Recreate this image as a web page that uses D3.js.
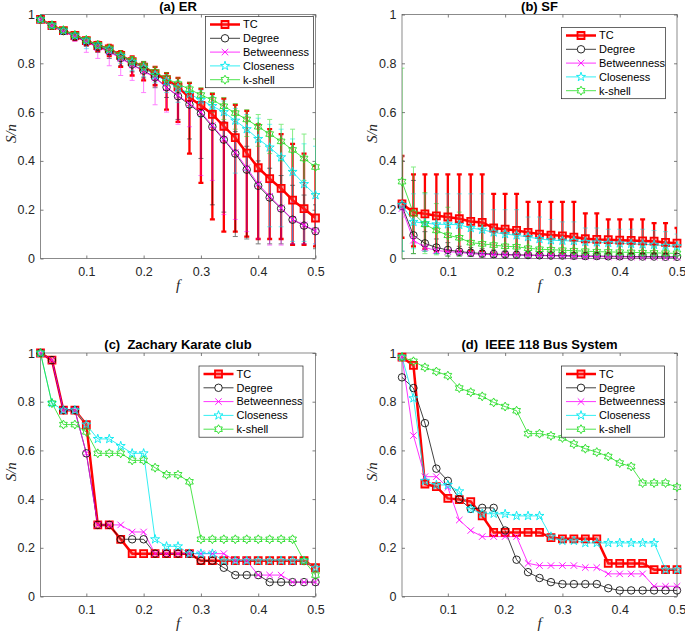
<!DOCTYPE html>
<html><head><meta charset="utf-8">
<script src="https://cdn.jsdelivr.net/npm/d3@7"></script>
<style>
body{margin:0;background:#fff}
svg{display:block}
text{font-family:"Liberation Sans",Arial,Helvetica,sans-serif}
</style>
</head><body>
<svg id="chart" width="685" height="632"></svg>
<script>
// ---------------- data ----------------
const fValues = [0.02,0.04,0.06,0.08,0.10,0.12,0.14,0.16,0.18,0.20,0.22,0.24,0.26,0.28,0.30,0.32,0.34,0.36,0.38,0.40,0.42,0.44,0.46,0.48,0.50];
const xTicks = [0.1,0.2,0.3,0.4,0.5];
const xTickLabels = ["0.1","0.2","0.3","0.4","0.5"];
const yTicks = [0,0.2,0.4,0.6,0.8,1];
const yTickLabels = ["0","0.2","0.4","0.6","0.8","1"];
const seriesNames = ["TC","Degree","Betweenness","Closeness","k-shell"];
const panelTitles = ["(a) ER","(b) SF","(c)  Zachary Karate club","(d)  IEEE 118 Bus System"];
const xLabel = "f";
const yLabel = "S/n";

// (a) ER
const erTC = [0.98,0.955,0.934,0.914,0.893,0.873,0.859,0.832,0.807,0.784,0.758,0.733,0.703,0.66,0.627,0.591,0.542,0.495,0.432,0.372,0.327,0.287,0.239,0.204,0.166];
const erDegree = [0.98,0.955,0.932,0.91,0.89,0.868,0.85,0.822,0.795,0.77,0.742,0.702,0.665,0.631,0.595,0.54,0.487,0.43,0.364,0.298,0.25,0.205,0.159,0.135,0.112];
const erBetweenness = [0.98,0.954,0.93,0.908,0.887,0.865,0.847,0.82,0.793,0.768,0.74,0.70,0.668,0.635,0.60,0.545,0.49,0.435,0.372,0.305,0.255,0.207,0.16,0.137,0.113];
const erCloseness = [0.98,0.955,0.934,0.914,0.894,0.873,0.857,0.83,0.805,0.782,0.752,0.727,0.70,0.675,0.65,0.625,0.60,0.565,0.53,0.49,0.455,0.415,0.355,0.305,0.26];
const erKshell = [0.98,0.956,0.936,0.916,0.896,0.876,0.861,0.834,0.81,0.789,0.764,0.738,0.715,0.694,0.67,0.65,0.624,0.596,0.57,0.54,0.51,0.48,0.445,0.41,0.375];
const erTCLow = [0.975,0.948,0.925,0.895,0.875,0.85,0.83,0.785,0.75,0.73,0.71,0.61,0.56,0.43,0.31,0.16,0.11,0.11,0.09,0.08,0.08,0.08,0.056,0.056,0.05];
const erTCHigh = [0.985,0.962,0.942,0.925,0.905,0.888,0.875,0.85,0.828,0.805,0.785,0.76,0.74,0.72,0.695,0.675,0.655,0.63,0.605,0.55,0.53,0.51,0.47,0.43,0.38];
const erDegreeLow = [0.975,0.945,0.92,0.895,0.87,0.845,0.82,0.79,0.765,0.74,0.70,0.66,0.57,0.49,0.41,0.22,0.19,0.09,0.08,0.06,0.06,0.06,0.06,0.06,0.04];
const erDegreeHigh = [0.985,0.962,0.942,0.922,0.903,0.883,0.866,0.84,0.815,0.792,0.767,0.73,0.695,0.663,0.64,0.60,0.56,0.52,0.46,0.40,0.37,0.34,0.30,0.26,0.22];
const erBetweennessLow = [0.975,0.945,0.92,0.89,0.845,0.82,0.79,0.75,0.73,0.68,0.63,0.60,0.55,0.54,0.34,0.32,0.18,0.16,0.11,0.08,0.055,0.055,0.06,0.06,0.06];
const erBetweennessHigh = [0.985,0.962,0.94,0.92,0.9,0.88,0.862,0.836,0.81,0.787,0.76,0.725,0.695,0.665,0.635,0.585,0.535,0.48,0.42,0.36,0.31,0.27,0.23,0.2,0.17];
const erClosenessLow = [0.975,0.948,0.925,0.9,0.86,0.855,0.835,0.8,0.77,0.745,0.72,0.68,0.64,0.62,0.58,0.54,0.49,0.35,0.36,0.30,0.13,0.13,0.07,0.07,0.06];
const erClosenessHigh = [0.985,0.962,0.942,0.925,0.905,0.887,0.873,0.848,0.825,0.805,0.775,0.752,0.728,0.71,0.69,0.665,0.645,0.615,0.59,0.575,0.55,0.53,0.49,0.47,0.46];
const erKshellLow = [0.975,0.948,0.928,0.905,0.885,0.862,0.845,0.815,0.79,0.765,0.74,0.71,0.685,0.66,0.63,0.6,0.57,0.53,0.50,0.46,0.43,0.40,0.36,0.32,0.26];
const erKshellHigh = [0.986,0.963,0.944,0.925,0.906,0.888,0.874,0.85,0.828,0.808,0.786,0.762,0.74,0.722,0.7,0.68,0.66,0.635,0.61,0.59,0.57,0.55,0.53,0.51,0.49];

// (b) SF
const sfTC = [0.224,0.19,0.183,0.175,0.17,0.163,0.152,0.148,0.125,0.12,0.115,0.107,0.1,0.096,0.093,0.088,0.081,0.078,0.077,0.075,0.074,0.072,0.071,0.066,0.063];
const sfDegree = [0.215,0.095,0.062,0.045,0.035,0.028,0.024,0.02,0.018,0.016,0.015,0.014,0.013,0.012,0.012,0.011,0.01,0.01,0.009,0.009,0.008,0.008,0.008,0.007,0.007];
const sfBetweenness = [0.205,0.075,0.045,0.033,0.028,0.025,0.02,0.017,0.016,0.015,0.014,0.013,0.012,0.011,0.01,0.009,0.008,0.008,0.007,0.007,0.006,0.006,0.006,0.005,0.005];
const sfCloseness = [0.22,0.15,0.145,0.14,0.14,0.138,0.125,0.118,0.107,0.1,0.095,0.088,0.08,0.075,0.073,0.072,0.068,0.066,0.064,0.062,0.06,0.058,0.056,0.052,0.05];
const sfKshell = [0.315,0.185,0.14,0.115,0.095,0.085,0.065,0.06,0.055,0.05,0.048,0.042,0.038,0.036,0.034,0.032,0.03,0.028,0.027,0.026,0.025,0.024,0.023,0.022,0.021];
const sfTCLow = [0.085,0.05,0.04,0.03,0.03,0.03,0.03,0.03,0.02,0.02,0.02,0.02,0.02,0.02,0.02,0.02,0.02,0.02,0.02,0.02,0.02,0.02,0.02,0.02,0.02];
const sfTCHigh = [0.42,0.345,0.345,0.345,0.345,0.345,0.345,0.345,0.265,0.265,0.265,0.232,0.232,0.232,0.232,0.232,0.185,0.185,0.16,0.16,0.16,0.16,0.145,0.145,0.125];
const sfDegreeLow = [0.03,0.02,0.03,0.02,0.01,0.01,0.008,0.006,0.006,0.005,0.005,0.004,0.004,0.004,0.004,0.003,0.003,0.003,0.003,0.003,0.002,0.002,0.002,0.002,0.002];
const sfDegreeHigh = [0.40,0.32,0.11,0.08,0.065,0.05,0.045,0.04,0.035,0.032,0.03,0.028,0.026,0.025,0.024,0.022,0.02,0.02,0.018,0.018,0.017,0.016,0.016,0.015,0.015];
const sfBetweennessLow = [0.17,0.06,0.035,0.025,0.02,0.018,0.013,0.011,0.011,0.01,0.009,0.009,0.008,0.007,0.006,0.005,0.004,0.004,0.003,0.003,0.002,0.002,0.002,0.001,0.001];
const sfBetweennessHigh = [0.24,0.09,0.055,0.042,0.036,0.032,0.027,0.023,0.021,0.02,0.019,0.017,0.016,0.015,0.014,0.013,0.012,0.012,0.011,0.011,0.01,0.01,0.01,0.009,0.009];
const sfClosenessLow = [0.03,0.04,0.03,0.02,0.02,0.02,0.02,0.02,0.02,0.02,0.02,0.015,0.015,0.015,0.015,0.015,0.012,0.012,0.012,0.012,0.01,0.01,0.01,0.01,0.01];
const sfClosenessHigh = [0.42,0.265,0.265,0.265,0.265,0.265,0.265,0.265,0.2,0.2,0.2,0.17,0.17,0.16,0.15,0.15,0.125,0.125,0.12,0.12,0.12,0.12,0.115,0.11,0.1];
const sfKshellLow = [0.0,0.02,0.02,0.015,0.01,0.01,0.008,0.008,0.006,0.006,0.005,0.005,0.005,0.004,0.004,0.004,0.004,0.004,0.003,0.003,0.003,0.003,0.003,0.003,0.003];
const sfKshellHigh = [0.78,0.375,0.27,0.225,0.21,0.19,0.15,0.14,0.12,0.11,0.1,0.09,0.085,0.08,0.075,0.07,0.065,0.06,0.058,0.056,0.054,0.052,0.05,0.048,0.046];

// (c) Zachary Karate club
const zkTC = [1,0.971,0.765,0.765,0.706,0.294,0.294,0.235,0.176,0.176,0.176,0.176,0.176,0.176,0.147,0.147,0.147,0.147,0.147,0.147,0.147,0.147,0.147,0.147,0.118];
const zkDegree = [1,0.971,0.765,0.765,0.588,0.294,0.294,0.235,0.235,0.235,0.176,0.176,0.176,0.176,0.147,0.147,0.118,0.088,0.088,0.088,0.059,0.059,0.059,0.059,0.059];
const zkBetweenness = [1,0.971,0.765,0.765,0.588,0.294,0.294,0.294,0.265,0.265,0.176,0.176,0.176,0.176,0.176,0.176,0.176,0.147,0.147,0.088,0.088,0.088,0.059,0.059,0.059];
const zkCloseness = [1,0.794,0.765,0.765,0.706,0.647,0.647,0.618,0.588,0.588,0.235,0.206,0.206,0.176,0.176,0.176,0.147,0.147,0.147,0.147,0.147,0.147,0.147,0.147,0.118];
const zkKshell = [1,0.794,0.706,0.706,0.676,0.588,0.588,0.588,0.559,0.559,0.529,0.5,0.5,0.471,0.235,0.235,0.235,0.235,0.235,0.235,0.235,0.235,0.235,0.147,0.088];

// (d) IEEE 118 Bus System
const ieTC = [0.983,0.949,0.462,0.451,0.403,0.398,0.39,0.331,0.263,0.263,0.263,0.263,0.263,0.242,0.237,0.237,0.237,0.237,0.136,0.136,0.136,0.136,0.11,0.11,0.11];
const ieDegree = [0.90,0.856,0.712,0.525,0.475,0.40,0.36,0.364,0.364,0.271,0.151,0.10,0.076,0.059,0.051,0.051,0.051,0.051,0.034,0.025,0.025,0.025,0.025,0.025,0.025];
const ieBetweenness = [0.983,0.661,0.492,0.492,0.448,0.314,0.271,0.246,0.246,0.246,0.246,0.136,0.127,0.127,0.127,0.127,0.119,0.119,0.093,0.093,0.093,0.093,0.042,0.042,0.042];
const ieCloseness = [0.983,0.814,0.475,0.458,0.458,0.432,0.36,0.34,0.34,0.339,0.331,0.331,0.331,0.246,0.229,0.229,0.22,0.22,0.22,0.22,0.22,0.22,0.22,0.11,0.11];
const ieKshell = [0.983,0.966,0.941,0.924,0.907,0.856,0.839,0.822,0.797,0.78,0.763,0.669,0.669,0.66,0.651,0.626,0.607,0.593,0.575,0.548,0.534,0.466,0.466,0.466,0.449];

// ---------------- styles / layout ----------------
const hexagram = {draw(ctx, size){const r=Math.sqrt(size)/2, ri=r/Math.sqrt(3);
  for(let i=0;i<12;i++){const a=-Math.PI/2+i*Math.PI/6, rr=i%2?ri:r; const x=rr*Math.cos(a), y=rr*Math.sin(a); i?ctx.lineTo(x,y):ctx.moveTo(x,y);} ctx.closePath();}};
const pentagram = {draw(ctx, size){const r=Math.sqrt(size)/2, ri=r*0.382;
  for(let i=0;i<10;i++){const a=-Math.PI/2+i*Math.PI/5, rr=i%2?ri:r; const x=rr*Math.cos(a), y=rr*Math.sin(a); i?ctx.lineTo(x,y):ctx.moveTo(x,y);} ctx.closePath();}};
const square = {draw(ctx, size){const h=Math.sqrt(size)/2; ctx.rect(-h,-h,2*h,2*h);}};
const circle = {draw(ctx, size){const r=Math.sqrt(size)/2; ctx.moveTo(r,0); ctx.arc(0,0,r,0,2*Math.PI);}};
const cross = {draw(ctx, size){const h=Math.sqrt(size)/2; ctx.moveTo(-h,-h); ctx.lineTo(h,h); ctx.moveTo(-h,h); ctx.lineTo(h,-h);}};

const seriesStyle = [
  {color:"#ff0000", lw:2.5, type:square, size:49, mfill:"rgba(255,60,60,0.35)", mw:1.8, ew:2.3, eop:1},
  {color:"#111111", lw:0.8, type:circle, size:56, mfill:"none", mw:0.9, ew:1, eop:0.55},
  {color:"#ff00ff", lw:0.8, type:cross, size:42, mfill:"none", mw:0.9, ew:1, eop:0.5},
  {color:"#00eaf0", lw:0.8, type:pentagram, size:90, mfill:"none", mw:0.9, ew:1, eop:0.55},
  {color:"#22dd22", lw:0.8, type:hexagram, size:80, mfill:"none", mw:0.9, ew:1, eop:0.55}
];

const panels = [
  {title:panelTitles[0], xr:[40.5,315.5], yr:[258.5,14.5], leg:[205.5,16.5,108],
   vals:[erTC,erDegree,erBetweenness,erCloseness,erKshell],
   lows:[erTCLow,erDegreeLow,erBetweennessLow,erClosenessLow,erKshellLow],
   highs:[erTCHigh,erDegreeHigh,erBetweennessHigh,erClosenessHigh,erKshellHigh]},
  {title:panelTitles[1], xr:[402,677], yr:[258.5,14.5], leg:[561.5,27.5,104],
   vals:[sfTC,sfDegree,sfBetweenness,sfCloseness,sfKshell],
   lows:[sfTCLow,sfDegreeLow,sfBetweennessLow,sfClosenessLow,sfKshellLow],
   highs:[sfTCHigh,sfDegreeHigh,sfBetweennessHigh,sfClosenessHigh,sfKshellHigh]},
  {title:panelTitles[2], xr:[40.5,315.5], yr:[596.5,353], leg:[199,366,104],
   vals:[zkTC,zkDegree,zkBetweenness,zkCloseness,zkKshell]},
  {title:panelTitles[3], xr:[402,677], yr:[596.5,353], leg:[561.5,366,103],
   vals:[ieTC,ieDegree,ieBetweenness,ieCloseness,ieKshell]}
];

const svg = d3.select("#chart");
const axisColor = "#262626";

panels.forEach((p, pi) => {
  const x = d3.scaleLinear().domain([0.02,0.5]).range(p.xr);
  const y = d3.scaleLinear().domain([0,1]).range(p.yr);
  const g = svg.append("g");
  const cid = "clip"+pi;
  g.append("clipPath").attr("id",cid).append("rect")
    .attr("x",p.xr[0]).attr("y",p.yr[1]).attr("width",p.xr[1]-p.xr[0]).attr("height",p.yr[0]-p.yr[1]);

  // axes
  const xb = d3.axisBottom(x).tickValues(xTicks).tickFormat((d,i)=>xTickLabels[i]).tickSizeInner(-3).tickSizeOuter(0).tickPadding(9);
  const xt = d3.axisTop(x).tickValues(xTicks).tickFormat("").tickSizeInner(-3).tickSizeOuter(0);
  const yl = d3.axisLeft(y).tickValues(yTicks).tickFormat((d,i)=>yTickLabels[i]).tickSizeInner(-3).tickSizeOuter(0).tickPadding(5.5);
  const yrt = d3.axisRight(y).tickValues(yTicks).tickFormat("").tickSizeInner(-3).tickSizeOuter(0);
  const axes = [
    g.append("g").attr("transform",`translate(0,${p.yr[0]})`).call(xb),
    g.append("g").attr("transform",`translate(0,${p.yr[1]})`).call(xt),
    g.append("g").attr("transform",`translate(${p.xr[0]},0)`).call(yl),
    g.append("g").attr("transform",`translate(${p.xr[1]},0)`).call(yrt)
  ];
  axes.forEach(a => {
    a.select(".domain").remove();
    a.selectAll(".tick line").attr("stroke",axisColor).attr("stroke-width",0.6);
    a.selectAll(".tick text").attr("fill",axisColor).style("font-size","12.5px").style("font-family","'Liberation Sans',Arial,sans-serif");
  });
  g.append("rect").attr("x",p.xr[0]).attr("y",p.yr[1]).attr("width",p.xr[1]-p.xr[0]).attr("height",p.yr[0]-p.yr[1])
    .attr("fill","none").attr("stroke","#5a5a5a").attr("stroke-width",0.7);

  // title
  g.append("text").attr("x",(p.xr[0]+p.xr[1])/2).attr("y",p.yr[1]-4).attr("text-anchor","middle")
    .style("font-weight","bold").style("font-size","13px").style("white-space","pre").attr("fill","#000").text(p.title);
  // axis labels
  g.append("text").attr("x",(p.xr[0]+p.xr[1])/2).attr("y",p.yr[0]+31).attr("text-anchor","middle")
    .style("font-family","'Liberation Serif','Times New Roman',serif").style("font-style","italic").style("font-size","15px")
    .attr("fill",axisColor).text(xLabel);
  g.append("text").attr("transform",`translate(${p.xr[0]-25},${(p.yr[0]+p.yr[1])/2-3}) rotate(-90)`).attr("text-anchor","middle")
    .style("font-family","'Liberation Serif','Times New Roman',serif").style("font-style","italic").style("font-size","15px")
    .attr("fill",axisColor).text(yLabel);

  const plot = g.append("g").attr("clip-path",`url(#${cid})`);

  // error bars
  if (p.lows) {
    p.vals.forEach((vals, si) => {
      const st = seriesStyle[si];
      const eg = plot.append("g").attr("stroke",st.color).attr("stroke-width",st.ew).attr("opacity",st.eop).attr("fill","none");
      const cap = 2.5;
      fValues.forEach((f, j) => {
        const lo = p.lows[si][j], hi = p.highs[si][j];
        eg.append("line").attr("x1",x(f)).attr("x2",x(f)).attr("y1",y(lo)).attr("y2",y(hi));
        eg.append("line").attr("x1",x(f)-cap).attr("x2",x(f)+cap).attr("y1",y(lo)).attr("y2",y(lo));
        eg.append("line").attr("x1",x(f)-cap).attr("x2",x(f)+cap).attr("y1",y(hi)).attr("y2",y(hi));
      });
    });
  }

  // lines + markers
  p.vals.forEach((vals, si) => {
    const st = seriesStyle[si];
    const pts = fValues.map((f,j)=>[f, vals[j]]);
    plot.append("path").datum(pts)
      .attr("d", d3.line().x(d=>x(d[0])).y(d=>y(d[1])))
      .attr("fill","none").attr("stroke",st.color).attr("stroke-width",st.lw).attr("stroke-linejoin","round");
    const sym = d3.symbol().type(st.type).size(st.size);
    g.append("g").selectAll("path").data(pts).join("path")
      .attr("transform",d=>`translate(${x(d[0])},${y(d[1])})`)
      .attr("d",sym).attr("fill",st.mfill).attr("stroke",st.color).attr("stroke-width",st.mw);
  });

  // legend
  const [lx, ly, lw] = p.leg;
  const rowH = 13.8, lh = 8 + 4*rowH + 8;
  const lg = g.append("g");
  lg.append("rect").attr("x",lx).attr("y",ly).attr("width",lw).attr("height",lh)
    .attr("fill","#fff").attr("stroke",axisColor).attr("stroke-width",0.7);
  seriesNames.forEach((name, si) => {
    const st = seriesStyle[si];
    const ry = ly + 8 + si*rowH;
    lg.append("line").attr("x1",lx+4.5).attr("x2",lx+34.5).attr("y1",ry).attr("y2",ry)
      .attr("stroke",st.color).attr("stroke-width",st.lw);
    lg.append("path").attr("transform",`translate(${lx+19.5},${ry})`)
      .attr("d",d3.symbol().type(st.type).size(st.size)).attr("fill",si===0?st.mfill:"#fff")
      .attr("stroke",st.color).attr("stroke-width",st.mw);
    lg.append("text").attr("x",lx+37.5).attr("y",ry).attr("dy","0.35em")
      .style("font-size","11px").attr("fill","#000").text(name);
  });
});
</script>
</body></html>
